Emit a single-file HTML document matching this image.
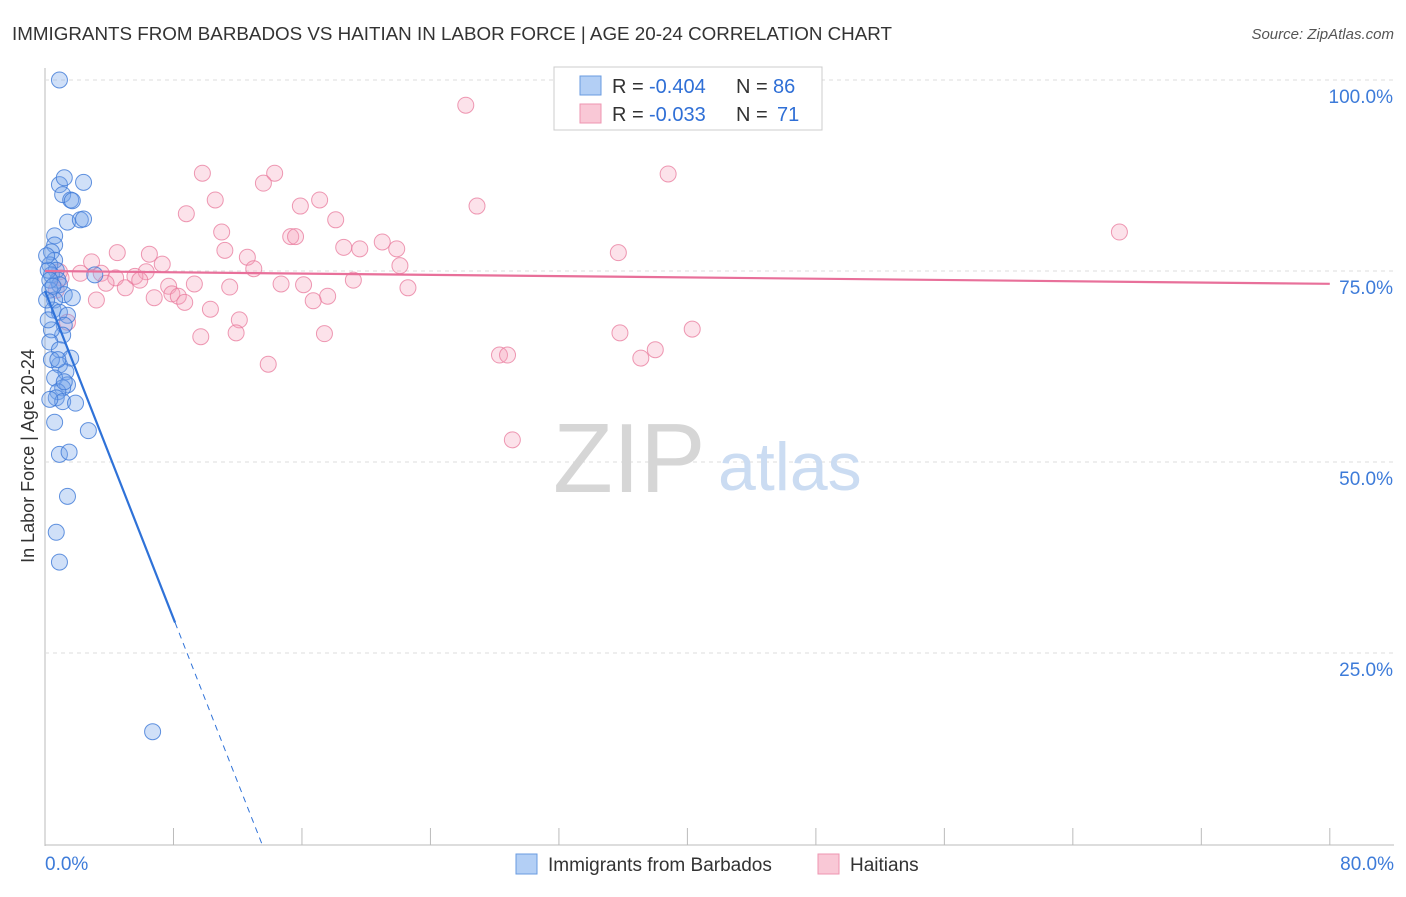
<!DOCTYPE html>
<html><head><meta charset="utf-8"><style>
body{margin:0;background:#fff;font-family:"Liberation Sans",sans-serif}
svg text{font-family:"Liberation Sans",sans-serif}
</style></head><body>
<svg id="c" width="1406" height="892">
<text x="12" y="40" font-size="18.8" fill="#333" textLength="880">IMMIGRANTS FROM BARBADOS VS HAITIAN IN LABOR FORCE | AGE 20-24 CORRELATION CHART</text>
<text x="1394" y="39" font-size="15" fill="#555" text-anchor="end" font-style="italic">Source: ZipAtlas.com</text>
<text x="34" y="456" font-size="18" fill="#333" text-anchor="middle" transform="rotate(-90 34 456)">In Labor Force | Age 20-24</text>
<g id="grid"></g>
<text x="553" y="492" font-size="98" fill="#d6d6d6" font-family="Liberation Serif">ZIP</text>
<text x="718" y="490" font-size="68" fill="#cbdcf2">atlas</text>
<g id="pts"></g>
<g id="lines"></g>
<g>
<rect x="554" y="67" width="268" height="63" fill="#fff" stroke="#ccc"/>
<rect x="580" y="76" width="21" height="19" fill="#b3cff5" stroke="#6a9be0"/>
<rect x="580" y="104" width="21" height="19" fill="#f9c8d6" stroke="#ee95b0"/>
<text x="612" y="93" font-size="20" fill="#333">R =</text>
<text x="649" y="93" font-size="20" fill="#2f6fd6">-0.404</text>
<text x="736" y="93" font-size="20" fill="#333">N =</text>
<text x="773" y="93" font-size="20" fill="#2f6fd6">86</text>
<text x="612" y="121" font-size="20" fill="#333">R =</text>
<text x="649" y="121" font-size="20" fill="#2f6fd6">-0.033</text>
<text x="736" y="121" font-size="20" fill="#333">N =</text>
<text x="777" y="121" font-size="20" fill="#2f6fd6">71</text>
</g>
<g>
<rect x="516" y="854" width="21" height="20" fill="#b3cff5" stroke="#6a9be0"/>
<text x="548" y="871" font-size="19" fill="#333">Immigrants from Barbados</text>
<rect x="818" y="854" width="21" height="20" fill="#f9c8d6" stroke="#ee95b0"/>
<text x="850" y="871" font-size="19" fill="#333">Haitians</text>
</g>
</svg>
<script>
const yTicks=[25,50,75,100];
const yTickLabels=["25.0%","50.0%","75.0%","100.0%"];
const xTicks=[0,8,16,24,32,40,48,56,64,72,80];
const xEndLabels=["0.0%","80.0%"];
const blueX=[0.9,0.9,1.2,2.4,1.1,1.6,1.7,1.4,2.2,2.4,0.6,0.6,0.4,0.6,0.3,0.7,0.4,0.8,0.9,0.3,1.2,1.7,3.1,0.6,0.5,0.9,1.4,1.2,1.1,0.4,0.3,0.9,1.6,0.9,1.3,0.6,1.4,1.1,0.8,0.7,1.1,1.9,0.6,2.7,0.9,1.5,1.4,0.7,0.9,6.7,0.2,0.3,0.1,0.2,0.4,0.8,1.2,0.3,0.5,0.1];
const blueY=[100,86.3,87.2,86.6,85,84.3,84.2,81.4,81.7,81.8,79.6,78.4,77.5,76.4,75.8,75.1,74.5,73.8,73.2,72.5,71.9,71.5,74.5,71.2,69.9,69.6,69.2,67.9,66.6,67.3,65.7,64.7,63.6,62.7,61.8,61,60.1,59.7,59.2,58.4,57.9,57.7,55.2,54.1,51,51.3,45.5,40.8,36.9,14.7,75.1,73.8,71.2,68.6,63.4,63.4,60.5,58.2,73,77];
const pinkX=[26.2,9.8,14.3,38.8,13.6,10.6,17.1,15.9,26.9,8.8,18.1,11,66.9,15.3,15.6,21,18.6,19.6,21.9,11.2,4.5,6.5,35.7,12.6,2.9,7.3,22.1,13,0.9,2.2,3.5,6.3,4.4,5.6,19.2,5.9,3.8,5,7.7,9.3,14.7,16.1,11.5,22.6,7.9,8.3,6.8,8.7,17.6,3.2,16.7,10.3,12.1,1.4,17.4,9.7,11.9,35.8,40.3,28.3,28.8,38,37.1,13.9,29.1,1,0.7];
const pinkY=[96.7,87.8,87.8,87.7,86.5,84.3,84.3,83.5,83.5,82.5,81.7,80.1,80.1,79.5,79.5,78.8,78.1,77.9,77.9,77.7,77.4,77.2,77.4,76.8,76.2,75.9,75.7,75.3,74.9,74.7,74.7,74.9,74.1,74.3,73.8,73.8,73.4,72.8,73,73.3,73.3,73.2,72.9,72.8,72,71.7,71.5,70.9,71.7,71.2,71.1,70,68.6,68.3,66.8,66.4,66.9,66.9,67.4,64,64,64.7,63.6,62.8,52.9,74.1,72.5];
const blueTrend=[72.4,-5.36];
const pinkTrend=[75.0,-0.021];
const X=v=>45+v*16.06, Y=v=>844-v*7.64;
const NS="http://www.w3.org/2000/svg";
function mk(t,a,p){const e=document.createElementNS(NS,t);for(const k in a)e.setAttribute(k,a[k]);p.appendChild(e);return e;}
const g=document.getElementById('grid');
const ax=mk('line',{x1:45,y1:68,x2:45,y2:846,stroke:'#bbb'},g);


const bx=mk('line',{x1:45,y1:845,x2:1394,y2:845,stroke:'#bbb'},g);


yTicks.forEach((t,i)=>{
 const l=mk('line',{x1:45,y1:Y(t),x2:1394,y2:Y(t),stroke:'#ddd','stroke-dasharray':'4 4'},g);
 
 
 const tx=mk('text',{x:1393,y:Y(t)+23,'font-size':19,fill:'#3d7bd9','text-anchor':'end'},g);
 tx.textContent=yTickLabels[i];
 
 
});
xTicks.forEach(t=>{
 if(t===0)return;
 const l=mk('line',{x1:X(t),y1:828,x2:X(t),y2:845,stroke:'#bbb'},g);
 
 
});
[[0,'start',45],[80,'end',1394]].forEach((d,i)=>{
 const tx=mk('text',{x:d[2],y:870,'font-size':19,fill:'#3d7bd9','text-anchor':d[1]},g);
 tx.textContent=xEndLabels[i];
 
 
});
const p=document.getElementById('pts');
pinkX.forEach((x,i)=>{
 const c=mk('circle',{cx:X(x),cy:Y(pinkY[i]),r:8,fill:'rgba(244,160,185,0.3)',stroke:'rgba(232,120,155,0.75)','stroke-width':1},p);
 
 
});
blueX.forEach((x,i)=>{
 const c=mk('circle',{cx:X(x),cy:Y(blueY[i]),r:8,fill:'rgba(120,165,235,0.35)',stroke:'rgba(60,120,215,0.8)','stroke-width':1},p);
 
 
});
const L=document.getElementById('lines');
const bEnd=8.1, bZero=-blueTrend[0]/blueTrend[1];
const b1=mk('line',{x1:X(0),y1:Y(blueTrend[0]),x2:X(bEnd),y2:Y(blueTrend[0]+blueTrend[1]*bEnd),stroke:'#2f72d8','stroke-width':2.2},L);


const b2=mk('line',{x1:X(bEnd),y1:Y(blueTrend[0]+blueTrend[1]*bEnd),x2:X(bZero),y2:Y(0),stroke:'#2f72d8','stroke-width':1,'stroke-dasharray':'6 5'},L);


const pl=mk('line',{x1:X(0),y1:Y(pinkTrend[0]),x2:X(80),y2:Y(pinkTrend[0]+pinkTrend[1]*80),stroke:'#e8709a','stroke-width':2.2},L);


</script>
</body></html>
